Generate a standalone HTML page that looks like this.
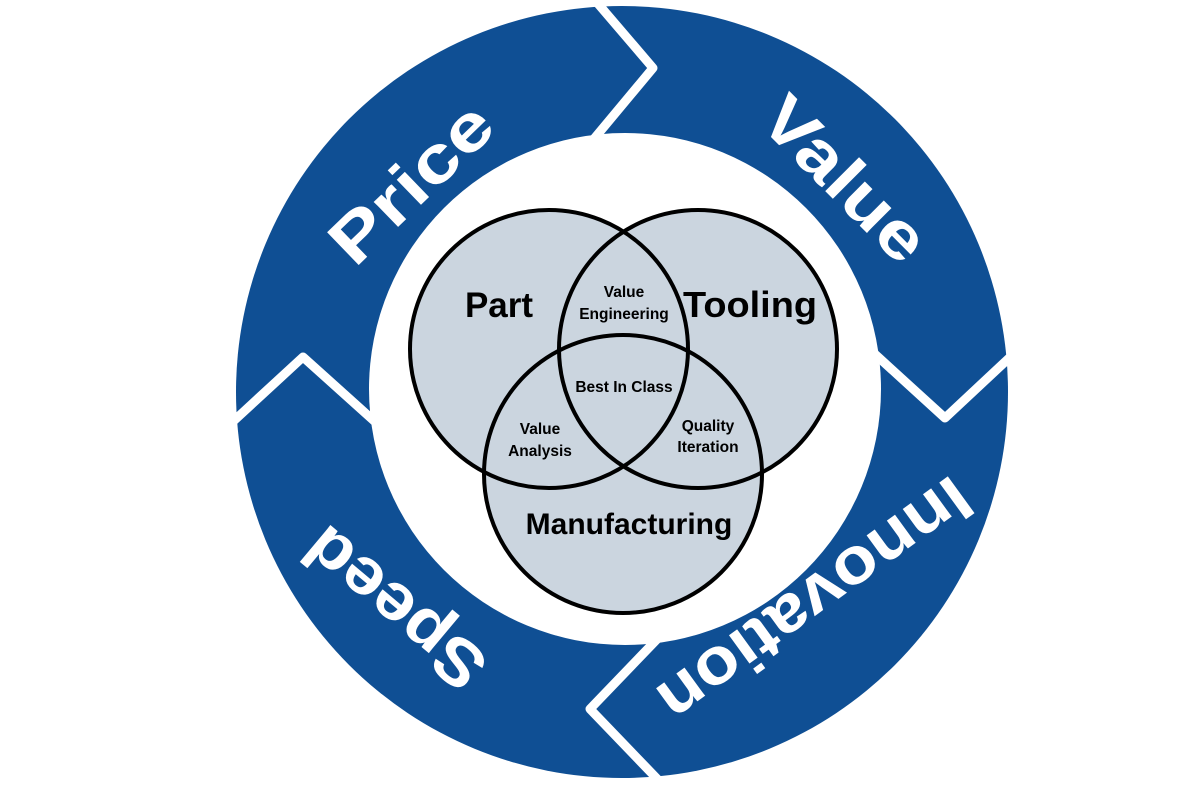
<!DOCTYPE html>
<html><head><meta charset="utf-8"><style>
html,body{margin:0;padding:0;background:#fff;width:1200px;height:800px;overflow:hidden}
svg{display:block}
</style></head><body>
<svg width="1200" height="800" viewBox="0 0 1200 800" xmlns="http://www.w3.org/2000/svg">
<circle cx="622" cy="392" r="386" fill="#0f4f94"/>
<circle cx="625" cy="389" r="256" fill="#fff"/>
<g fill="none" stroke="#fff" stroke-width="9" stroke-linejoin="round">
<polyline points="588,-8 653,68 588,146"/>
<polyline points="866,346 945,418 1022,346"/>
<polyline points="226,428 303,357 382,428"/>
<polyline points="664,632 590,709 664,786"/>
</g>
<g fill="#fff" font-family="Liberation Sans, sans-serif" font-weight="bold" font-size="66" text-anchor="middle">
<g transform="translate(410,182) rotate(-44)"><text x="0" y="24" textLength="200" lengthAdjust="spacingAndGlyphs">Price</text></g>
<g transform="translate(846,178) rotate(45)"><text x="0" y="24" textLength="205" lengthAdjust="spacingAndGlyphs">Value</text></g>
<g transform="translate(815,600) rotate(144)"><text x="0" y="22" textLength="370" lengthAdjust="spacingAndGlyphs">Innovation</text></g>
<g transform="translate(395,608) rotate(220)"><text x="0" y="22" textLength="215" lengthAdjust="spacingAndGlyphs">Speed</text></g>
</g>
<circle cx="549" cy="349" r="139" fill="#cbd5df"/>
<circle cx="698" cy="349" r="139" fill="#cbd5df"/>
<circle cx="623" cy="474" r="139" fill="#cbd5df"/>
<g fill="none" stroke="#000" stroke-width="4">
<circle cx="549" cy="349" r="139"/>
<circle cx="698" cy="349" r="139"/>
<circle cx="623" cy="474" r="139"/>
</g>
<g fill="#000" font-family="Liberation Sans, sans-serif" font-weight="bold" text-anchor="middle">
<text x="499" y="317" font-size="35">Part</text>
<text x="750" y="317" font-size="36" textLength="134" lengthAdjust="spacingAndGlyphs">Tooling</text>
<text x="629" y="534" font-size="30">Manufacturing</text>
<g font-size="15.5">
<text x="624" y="297">Value</text>
<text x="624" y="319">Engineering</text>
<text x="624" y="392">Best In Class</text>
<text x="540" y="434">Value</text>
<text x="540" y="456">Analysis</text>
<text x="708" y="431">Quality</text>
<text x="708" y="452">Iteration</text>
</g>
</g>
</svg>
</body></html>
